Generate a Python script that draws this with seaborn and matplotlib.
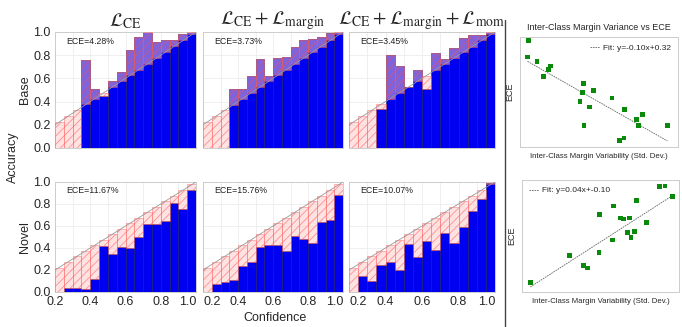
import numpy as np
import matplotlib
matplotlib.use("Agg")
import matplotlib.pyplot as plt
import seaborn as sns
from matplotlib.lines import Line2D

sns.set_style("whitegrid")
plt.rcParams['font.family'] = ['Liberation Sans', 'DejaVu Sans']
plt.rcParams['mathtext.fontset'] = 'stix'
plt.rcParams['hatch.linewidth'] = 0.6

# Datos de los diagramas de fiabilidad (16 bins entre 0.2 y 1.0)
bin_lo = 0.2
bin_hi = 1.0
n_bins = 16
conf = [0.22, 0.275, 0.325, 0.375, 0.425, 0.475, 0.525, 0.575,
        0.625, 0.675, 0.725, 0.775, 0.825, 0.875, 0.93, 0.985]

acc_base_ce = [0, 0, 0, 0.757, 0.505, 0.45, 0.577, 0.657,
               0.843, 0.955, 1.0, 0.91, 0.935, 0.935, 0.98, 1.0]
acc_base_margin = [0, 0, 0, 0.505, 0.505, 0.62, 0.77, 0.62,
                   0.78, 0.785, 0.87, 0.935, 0.94, 0.955, 0.99, 1.0]
acc_base_mom = [0, 0, 0, 0.337, 0.80, 0.705, 0.53, 0.67,
                0.505, 0.82, 0.77, 0.865, 0.95, 0.97, 0.975, 1.0]
acc_novel_ce = [0, 0.04, 0.04, 0.03, 0.12, 0.42, 0.35, 0.41,
                0.40, 0.50, 0.62, 0.62, 0.645, 0.81, 0.755, 0.925]
acc_novel_margin = [0, 0.07, 0.09, 0.11, 0.24, 0.27, 0.41, 0.43,
                    0.43, 0.37, 0.505, 0.485, 0.445, 0.636, 0.658, 0.88]
acc_novel_mom = [0, 0.15, 0.10, 0.25, 0.27, 0.20, 0.44, 0.32,
                 0.46, 0.38, 0.54, 0.45, 0.59, 0.735, 0.85, 0.99]

ece_base = ["ECE=4.28%", "ECE=3.73%", "ECE=3.45%"]
ece_novel = ["ECE=11.67%", "ECE=15.76%", "ECE=10.07%"]
titles = [r"$\mathcal{L}_{\mathrm{CE}}$",
          r"$\mathcal{L}_{\mathrm{CE}}+\mathcal{L}_{\mathrm{margin}}$",
          r"$\mathcal{L}_{\mathrm{CE}}+\mathcal{L}_{\mathrm{margin}}+\mathcal{L}_{\mathrm{mom}}$"]

# Datos de dispersión
std_top = [0.523, 0.514, 0.648, 0.805, 0.833, 0.736, 1.292, 1.282, 1.435, 1.245,
           1.375, 1.69, 1.866, 2.037, 2.120, 1.301, 2.056, 2.463, 1.792, 1.857]
ece_top = [0.319, 0.279, 0.269, 0.248, 0.257, 0.231, 0.214, 0.192, 0.197, 0.170,
           0.157, 0.179, 0.150, 0.126, 0.139, 0.112, 0.112, 0.112, 0.074, 0.081]
fit_top = (-0.10, 0.32)

std_bot = [3.0, 4.36, 4.86, 4.99, 5.40, 5.43, 5.88, 5.91, 6.15, 6.27,
           6.47, 6.40, 6.52, 6.65, 6.72, 7.05, 7.52, 7.71, 7.98]
ece_bot = [0.0295, 0.089, 0.067, 0.0615, 0.0947, 0.178, 0.122, 0.196, 0.170, 0.168,
           0.170, 0.139, 0.127, 0.141, 0.208, 0.161, 0.238, 0.2395, 0.2175]
fit_bot = (0.04, -0.10)

W, H = 682, 327
fig = plt.figure(figsize=(W / 100, H / 100), dpi=100)


def rect(x0, y0, x1, y1):
    return [x0 / W, 1 - y1 / H, (x1 - x0) / W, (y1 - y0) / H]


cols = [(55, 196), (203, 343), (349, 495)]
rows = [(32, 148), (182, 292)]
edges = np.linspace(bin_lo, bin_hi, n_bins + 1)[:-1]
bw = (bin_hi - bin_lo) / n_bins

data = [[acc_base_ce, acc_base_margin, acc_base_mom],
        [acc_novel_ce, acc_novel_margin, acc_novel_mom]]
eces = [ece_base, ece_novel]

for r in range(2):
    for c in range(3):
        ax = fig.add_axes(rect(cols[c][0], rows[r][0], cols[c][1], rows[r][1]))
        acc = np.array(data[r][c])
        cf = np.array(conf)
        ax.bar(edges, acc, width=bw, align='edge', color='#0000f0',
               edgecolor='#1a1a60', linewidth=0.4, zorder=2)
        ax.bar(edges, cf - acc, bottom=acc, width=bw, align='edge',
               facecolor=(1, 0.78, 0.78, 0.5), edgecolor=(1, 0.3, 0.3, 0.55),
               hatch='////', linewidth=0.5, zorder=3)
        ax.plot([0, 1], [0, 1], color='#999999', lw=0.6, zorder=4)
        ax.set_xlim(bin_lo, bin_hi)
        ax.set_ylim(0, 1)
        ax.set_xticks([0.2, 0.4, 0.6, 0.8, 1.0])
        ax.set_xticks(np.arange(0.3, 1.0, 0.2), minor=True)
        ax.set_yticks([0, 0.2, 0.4, 0.6, 0.8, 1.0])
        ax.grid(True, which='both', color='#ececec', lw=0.6)
        ax.set_axisbelow(True)
        for s in ax.spines.values():
            s.set_color('#cccccc')
            s.set_linewidth(0.7)
        ax.tick_params(length=0, labelsize=9, pad=3,
                       labelleft=(c == 0), labelbottom=(r == 1))
        if r == 1:
            xl = ax.get_xticklabels()
            xl[-1].set_horizontalalignment('right')
            if c > 0:
                xl[0].set_horizontalalignment('left')
        ax.text(0.08, 0.9, eces[r][c], transform=ax.transAxes, fontsize=6.3,
                color='#222222', zorder=5)
        if r == 0:
            ax.set_title(titles[c], fontsize=14, pad=4)
        if c == 0:
            ax.set_ylabel("Base" if r == 0 else "Novel", fontsize=9, labelpad=2)

fig.text(13 / W, 1 - 157 / H, "Accuracy", rotation=90, ha='center', va='center', fontsize=9)
fig.text(275 / W, 1 - 318 / H, "Confidence", ha='center', va='center', fontsize=9)

# Línea divisoria
fig.add_artist(Line2D([505 / W, 505 / W], [0, 1 - 20 / H], color='#444444', lw=1.0))

# Gráficos de dispersión
scat = [
    (rect(520, 37, 678, 147), std_top, ece_top, fit_top, "Fit: y=-0.10x+0.32",
     (0.41, 2.61), (0.059, 0.328), np.arange(0.5, 2.6, 0.25), np.linspace(0.062, 0.316, 6),
     "Inter-Class Margin Variance vs ECE"),
    (rect(522, 180, 679, 292), std_bot, ece_bot, fit_bot, "Fit: y=0.04x+-0.10",
     (2.709, 8.198), (0.0091, 0.2527), np.linspace(2.88, 7.67, 7), np.linspace(0.015, 0.233, 6),
     None),
]
for pos, xs, ys, fit, lab, xl, yl, xt, yt, ttl in scat:
    ax = fig.add_axes(pos)
    sns.scatterplot(x=xs, y=ys, ax=ax, marker='s', s=12, color='#0a8a0a',
                    edgecolor='none', zorder=3)
    xx = np.array([min(xs), max(xs)])
    ax.plot(xx, fit[0] * xx + fit[1], ls=(0, (2, 1)), color='#666666', lw=0.6, label=lab)
    ax.set_xlim(*xl)
    ax.set_ylim(*yl)
    ax.set_xticks(xt)
    ax.set_yticks(yt)
    ax.grid(False)
    for s in ax.spines.values():
        s.set_color('#cccccc')
        s.set_linewidth(0.7)
    ax.tick_params(length=2, width=0.5, color='#bbbbbb', labelleft=False, labelbottom=False)
    ax.set_xlabel("Inter-Class Margin Variability (Std. Dev.)", fontsize=5.6, labelpad=4)
    ax.set_ylabel("ECE", fontsize=6.5, labelpad=4)
    ax.legend(loc='upper right' if ttl else 'upper left', frameon=False, fontsize=6,
              handlelength=1.2, handletextpad=0.4, borderaxespad=0.4)
    if ttl:
        ax.set_title(ttl, fontsize=6.5, pad=5)

plt.savefig("out.png", dpi=100)
